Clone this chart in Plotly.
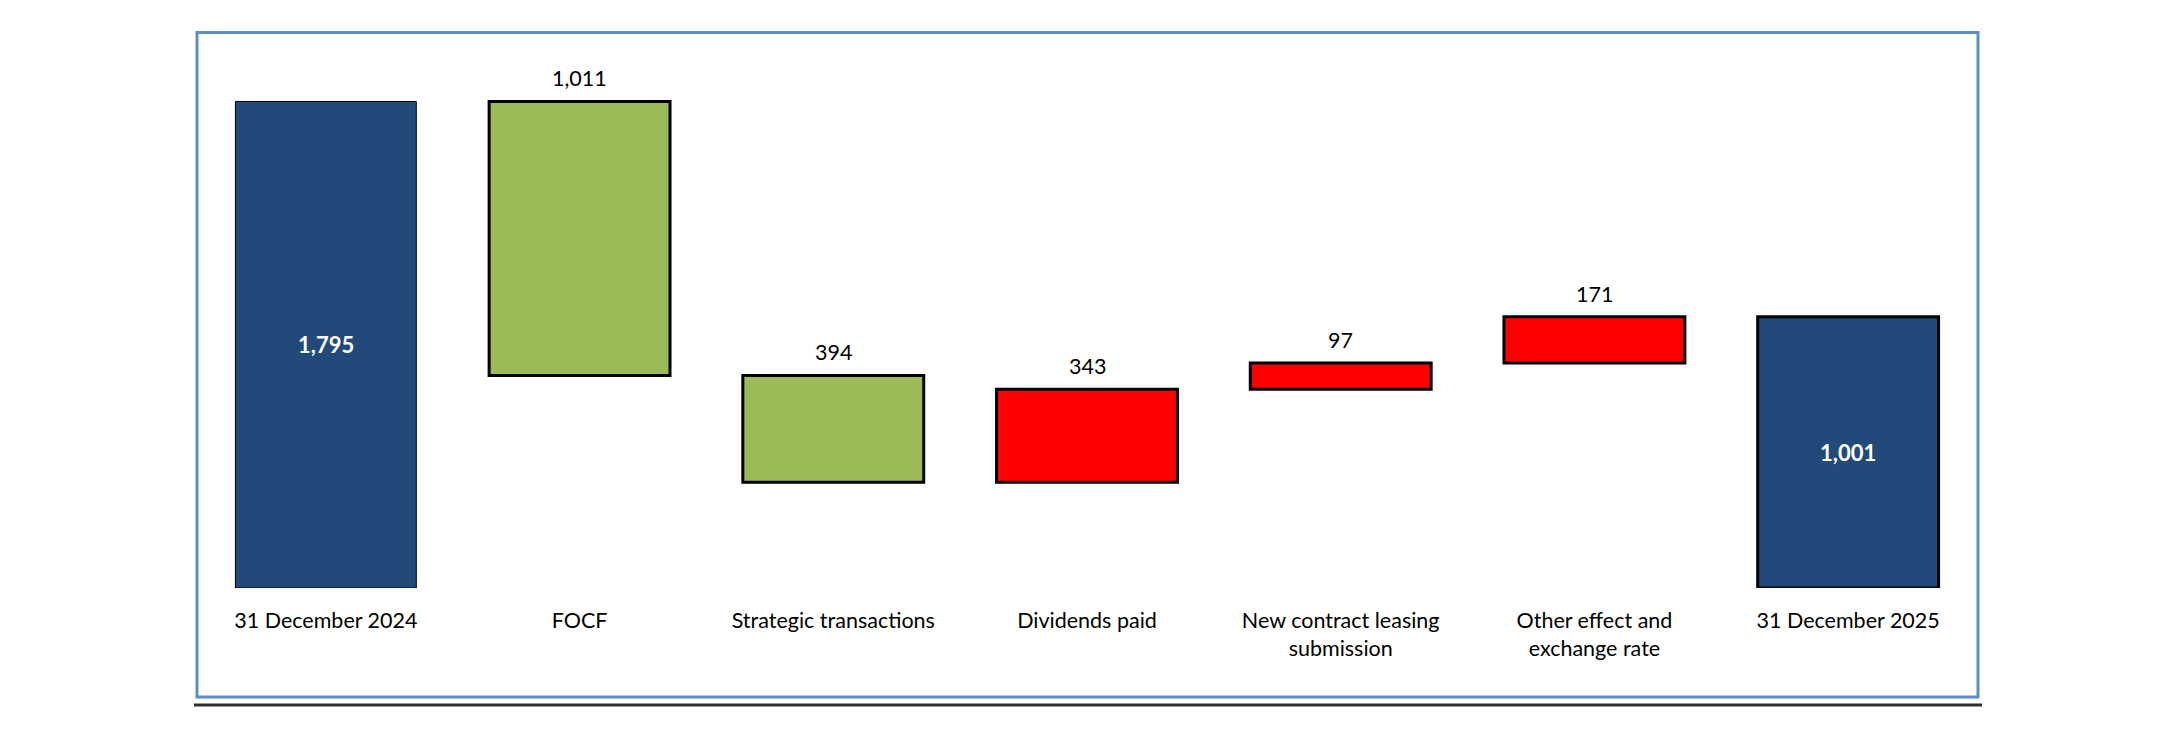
import plotly.graph_objects as go

categories = ["31 December 2024", "FOCF", "Strategic transactions", "Dividends paid",
              "New contract leasing<br>submission", "Other effect and<br>exchange rate",
              "31 December 2025"]
values = [1795, -1011, -394, 343, 97, 171, 1001]
kinds = ["total", "delta", "delta", "delta", "delta", "delta", "total"]
labels = ["1,795", "1,011", "394", "343", "97", "171", "1,001"]

NAVY = "#214A7B"
GREEN = "#9BBB59"
RED = "#FF0000"

bases, heights, colors, tops = [], [], [], []
running = 0
for v, k in zip(values, kinds):
    if k == "total":
        bases.append(0)
        heights.append(v)
        colors.append(NAVY)
        running = v
        tops.append(v)
    else:
        new = running + v
        lo, hi = min(running, new), max(running, new)
        bases.append(lo)
        heights.append(hi - lo)
        colors.append(GREEN if v < 0 else RED)
        tops.append(hi)
        running = new

line_widths = [1, 3, 3, 3, 3, 3, 3]

FONT = "Lato, 'Open Sans', sans-serif"

fig = go.Figure()
fig.add_trace(go.Bar(
    x=categories, y=heights, base=bases,
    marker=dict(color=colors, line=dict(color="#000000", width=line_widths)),
    width=0.713, hoverinfo="skip", showlegend=False,
))

annotations = []
for c, k, lab, b, h, t in zip(categories, kinds, labels, bases, heights, tops):
    if k == "total":
        annotations.append(dict(x=c, y=b + h / 2, text="<b>" + lab + "</b>", showarrow=False,
                                font=dict(family=FONT, size=22, color="white"),
                                xref="x", yref="y"))
    else:
        annotations.append(dict(x=c, y=t, text=lab, showarrow=False, yanchor="bottom", yshift=8,
                                font=dict(family=FONT, size=21.5, color="black"),
                                xref="x", yref="y"))

# page has an 8px body margin; compensate
OFF = 8
W, H = 2178, 735
L, R = 199 - OFF, 1975 - OFF
Y0, YT = 588 - OFF, 72.5 - OFF
pw, ph = R - L, Y0 - YT


def px(x):
    return (x - OFF - L) / pw


def py(y):
    return (Y0 - (y - OFF)) / ph


shapes = [
    dict(type="rect", xref="paper", yref="paper", x0=px(197), x1=px(1978), y0=py(697), y1=py(32),
         line=dict(color="#5B8DC9", width=3), fillcolor="rgba(0,0,0,0)", layer="below"),
    dict(type="line", xref="paper", yref="paper", x0=px(194), x1=px(1982), y0=py(705), y1=py(705),
         line=dict(color="#2B2F33", width=3)),
]

fig.update_layout(
    width=W - OFF, height=H - OFF,
    margin=dict(l=L, r=(W - OFF) - R, t=YT, b=(H - OFF) - Y0, pad=0),
    paper_bgcolor="white", plot_bgcolor="white",
    font=dict(family=FONT, size=21.5, color="black"),
    xaxis=dict(showgrid=False, zeroline=False, showline=False, ticks="outside", ticklen=13,
               tickcolor="rgba(0,0,0,0)", tickfont=dict(family=FONT, size=21.5, color="black"),
               range=[-0.5, 6.5]),
    yaxis=dict(range=[0, 1900], visible=False, showgrid=False, zeroline=False),
    annotations=annotations,
    shapes=shapes,
    bargap=0.287,
)

fig.write_html("out.html")
